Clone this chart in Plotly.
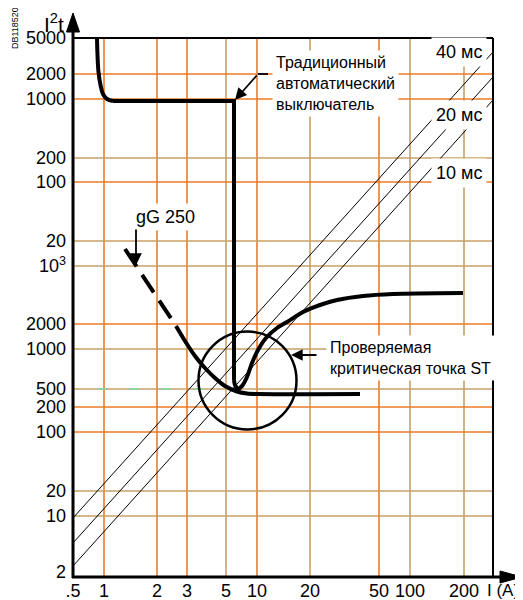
import plotly.graph_objects as go

# ---------------- data (axis units of the schematic grid) ----------------
x_tick_labels = [".5", "1", "2", "3", "5", "10", "20", "50", "100", "200"]
x_tick_pos = [0, 3.1, 8.4, 11.4, 15.3, 18.4, 23.7, 30.6, 33.7, 39.1]

y_tick_labels = ["2", "10", "20", "100", "200", "500", "1000", "2000",
                 "10<sup>3</sup>", "20", "100", "200", "1000", "2000", "5000"]
y_tick_pos = [0.5, 6.1, 8.6, 14.5, 17.0, 18.8, 22.8, 25.3,
              31.1, 33.6, 39.5, 41.9, 47.8, 50.3, 53.9]

# diagonal constant-time lines (10, 20, 40 ms)
ms_labels = ["10 мс", "20 мс", "40 мс"]
diag_x = [0, 42]
diag_10ms = [1.1, 47.7]
diag_20ms = [3.4, 50.0]
diag_40ms = [5.9, 52.5]

# conventional circuit breaker
breaker_bend_x = [2.4, 2.45, 2.55, 2.75, 3.0, 3.4, 4.0]
breaker_bend_y = [53.9, 52.2, 50.5, 49.2, 48.3, 47.8, 47.6]
breaker_step_x = [4.0, 16.1, 16.1]
breaker_step_y = [47.6, 47.6, 19.7]
breaker_rise_x = [16.1, 16.2, 16.5, 16.9, 17.4, 17.9, 18.5, 19.3, 20.4,
                  21.4, 23.0, 24.7, 26.4, 29.0, 32.0, 39.0]
breaker_rise_y = [19.7, 19.2, 18.85, 19.1, 20.0, 21.4, 22.7, 23.9, 24.9,
                  25.5, 26.5, 27.2, 27.7, 28.1, 28.3, 28.4]

# gG 250 fuse
fuse_dash_x = [5.2, 10.3]
fuse_dash_y = [32.8, 25.1]
fuse_x = [10.3, 11.2, 12.2, 13.2, 14.2, 15.2, 16.4, 17.4, 18.5, 28.7]
fuse_y = [25.1, 23.6, 22.1, 20.9, 19.9, 19.1, 18.55, 18.35, 18.3, 18.3]

# critical point circle (centre, radius)
crit_cx, crit_cy, crit_r = 17.45, 19.65, 4.9

# ---------------- styles ----------------
ORANGE = "#EC7A26"
TAN = "#C7A064"
x_grid_col = [None, ORANGE, ORANGE, ORANGE, TAN, ORANGE, TAN, ORANGE, TAN, TAN]
y_grid_col = [None, TAN, TAN, ORANGE, ORANGE, TAN, TAN, ORANGE,
              TAN, TAN, ORANGE, TAN, ORANGE, ORANGE, None]
XMAX, YMAX = 42, 53.9
FONT = "Liberation Sans, Arial, Helvetica, sans-serif"
NFONT = "Liberation Sans Narrow, Arial Narrow, Liberation Sans, Arial, sans-serif"

# the page body adds an 8 px offset; the figure is sized so that the
# plot area lands at page pixels x 73..493, y 38..577
OFF = 8

fig = go.Figure()

# grid lines
shapes = []
for xp, c in zip(x_tick_pos, x_grid_col):
    if c:
        shapes.append(dict(type="line", xref="x", yref="y", x0=xp, x1=xp, y0=0, y1=YMAX,
                           line=dict(color=c, width=1.6), layer="below"))
for yp, c in zip(y_tick_pos, y_grid_col):
    if c:
        shapes.append(dict(type="line", xref="x", yref="y", x0=0, x1=XMAX, y0=yp, y1=yp,
                           line=dict(color=c, width=1.6), layer="below"))
# greenish dashes on the 500 line
shapes.append(dict(type="line", xref="x", yref="y", x0=2.4, x1=13.0,
                   y0=y_tick_pos[5], y1=y_tick_pos[5],
                   line=dict(color="#7ED6A6", width=1.6, dash="10px,22px"), layer="below"))

# diagonal lines
for ys in (diag_10ms, diag_20ms, diag_40ms):
    fig.add_trace(go.Scatter(x=diag_x, y=ys, mode="lines",
                             line=dict(color="black", width=1), hoverinfo="skip"))

# breaker curve
fig.add_trace(go.Scatter(x=breaker_bend_x, y=breaker_bend_y, mode="lines",
                         line=dict(color="black", width=4, shape="spline")))
fig.add_trace(go.Scatter(x=breaker_step_x, y=breaker_step_y, mode="lines",
                         line=dict(color="black", width=4)))
fig.add_trace(go.Scatter(x=breaker_rise_x, y=breaker_rise_y, mode="lines",
                         line=dict(color="black", width=4, shape="spline", smoothing=0.8)))

# fuse curve
fig.add_trace(go.Scatter(x=fuse_dash_x, y=fuse_dash_y, mode="lines",
                         line=dict(color="black", width=4, dash="21px,10px")))
fig.add_trace(go.Scatter(x=fuse_x, y=fuse_y, mode="lines",
                         line=dict(color="black", width=4, shape="spline", smoothing=0.8)))

# circle
shapes.append(dict(type="circle", xref="x", yref="y",
                   x0=crit_cx - crit_r, x1=crit_cx + crit_r,
                   y0=crit_cy - crit_r, y1=crit_cy + crit_r,
                   line=dict(color="black", width=2.5)))

# frame and axes (paper coords from page pixels; plot area = 420 x 539 px)
def px(xp):
    return (xp - 73) / 420.0

def py(yp):
    return (577 - yp) / 539.0

shapes += [
    dict(type="line", xref="paper", yref="paper", x0=0, x1=1, y0=1, y1=1,
         line=dict(color="black", width=2)),
    dict(type="line", xref="paper", yref="paper", x0=1, x1=1, y0=0, y1=1,
         line=dict(color="black", width=2)),
    dict(type="line", xref="paper", yref="paper", x0=0, x1=0, y0=py(578), y1=py(28),
         line=dict(color="black", width=3)),
    dict(type="line", xref="paper", yref="paper", x0=px(72), x1=px(505), y0=0, y1=0,
         line=dict(color="black", width=3)),
    dict(type="path", xref="paper", yref="paper",
         path=f"M {px(73)} {py(13)} L {px(79.5)} {py(32)} L {px(66.5)} {py(32)} Z",
         fillcolor="black", line=dict(color="black", width=1)),
    dict(type="path", xref="paper", yref="paper",
         path=f"M {px(522)} {py(577)} L {px(500)} {py(571)} L {px(500)} {py(583)} Z",
         fillcolor="black", line=dict(color="black", width=1)),
    # small horizontal leader for breaker label
    dict(type="line", xref="x", yref="y", x0=18.5, x1=19.5, y0=50.3, y1=50.3,
         line=dict(color="black", width=1.8)),
]

annotations = [
    dict(text="Традиционный<br>автоматический<br>выключатель", x=19.9, y=49.4,
         xref="x", yref="y", xanchor="left", yanchor="middle", align="left",
         showarrow=False, bgcolor="white", borderpad=3,
         font=dict(family=NFONT, size=16, color="black")),
    dict(text="", x=16.2, y=47.7, ax=18.5, ay=50.3, xref="x", yref="y",
         axref="x", ayref="y", showarrow=True, arrowhead=2, arrowsize=1.3,
         arrowwidth=1.8, arrowcolor="black"),
    dict(text="Проверяемая<br>критическая точка ST", x=25.3, y=21.9,
         xref="x", yref="y", xanchor="left", yanchor="middle", align="left",
         showarrow=False, bgcolor="white", borderpad=3,
         font=dict(family=NFONT, size=16, color="black")),
    dict(text="", x=21.8, y=22.2, ax=24.5, ay=22.2, xref="x", yref="y",
         axref="x", ayref="y", showarrow=True, arrowhead=2, arrowsize=1.3,
         arrowwidth=1.8, arrowcolor="black"),
    dict(text="gG 250", x=9.2, y=36.0, xref="x", yref="y", showarrow=False,
         xanchor="center", yanchor="middle",
         bgcolor="white", borderpad=3, font=dict(family=FONT, size=18, color="black")),
    dict(text="", x=6.3, y=31.2, ax=6.3, ay=34.9, xref="x", yref="y",
         axref="x", ayref="y", showarrow=True, arrowhead=2, arrowsize=1.3,
         arrowwidth=1.8, arrowcolor="black"),
    dict(text=ms_labels[2], x=38.55, y=52.5, xref="x", yref="y", showarrow=False,
         xanchor="center", yanchor="middle",
         bgcolor="white", borderpad=4, font=dict(family=FONT, size=18, color="black")),
    dict(text=ms_labels[1], x=38.55, y=46.2, xref="x", yref="y", showarrow=False,
         xanchor="center", yanchor="middle",
         bgcolor="white", borderpad=4, font=dict(family=FONT, size=18, color="black")),
    dict(text=ms_labels[0], x=38.55, y=40.4, xref="x", yref="y", showarrow=False,
         xanchor="center", yanchor="middle",
         bgcolor="white", borderpad=4, font=dict(family=FONT, size=18, color="black")),
    dict(text="I<sup>2</sup>t", x=px(54), y=py(23), xref="paper", yref="paper",
         xanchor="center", yanchor="middle",
         showarrow=False, font=dict(family=FONT, size=21, color="black")),
    dict(text="I (A)", x=px(521), y=py(590), xref="paper", yref="paper",
         xanchor="right", yanchor="middle",
         showarrow=False, font=dict(family=FONT, size=17, color="black")),
    dict(text="DB118520", x=px(15), y=py(28), xref="paper", yref="paper",
         xanchor="center", yanchor="middle",
         textangle=-90, showarrow=False, font=dict(family=NFONT, size=9, color="black")),
]

fig.update_layout(
    template="none",
    width=523 - OFF, height=600 - OFF,
    margin=dict(l=73 - OFF, r=30, t=38 - OFF, b=23, autoexpand=False),
    plot_bgcolor="white", paper_bgcolor="white",
    showlegend=False,
    shapes=shapes, annotations=annotations,
    xaxis=dict(range=[0, XMAX], tickmode="array", tickvals=x_tick_pos, ticktext=x_tick_labels,
               showgrid=False, zeroline=False, showline=False, ticks="", automargin=False,
               ticklabelstandoff=1,
               tickfont=dict(family=FONT, size=18, color="black"), fixedrange=True),
    yaxis=dict(range=[0, YMAX], tickmode="array", tickvals=y_tick_pos, ticktext=y_tick_labels,
               showgrid=False, zeroline=False, showline=False, ticks="", automargin=False,
               ticklabelstandoff=6,
               tickfont=dict(family=FONT, size=18, color="black"), fixedrange=True),
)

fig.write_html("out.html")
